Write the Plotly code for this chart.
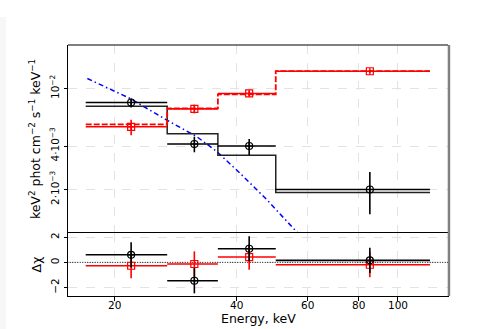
import math
import plotly.graph_objects as go
from plotly.subplots import make_subplots

# ---- data ----
bin_edges = [17, 27, 36, 50, 120]
energy = [22.0, 31.5, 43.0, 85.3]

black_flux = [0.0080, 0.00413, 0.0040, 0.0020]
black_err_hi = [0.00053, 0.00051, 0.00047, 0.00064]
black_err_lo = [0.00061, 0.00051, 0.00053, 0.00065]
black_model = [0.00755, 0.00487, 0.00345, 0.00191]

red_flux = [0.00543, 0.00723, 0.00924, 0.01316]
red_err_hi = [0.00064, 0.0005, 0.0004, 0.0004]
red_err_lo = [0.00068, 0.0005, 0.0004, 0.0004]
red_model = [0.00565, 0.00728, 0.0091, 0.0132]

blue_E = [17.16, 21.87, 26.93, 31.94, 35.79, 40.84, 47.53, 56.36, 57.4]
blue_y = [0.01172, 0.00853, 0.00605, 0.00464, 0.00366, 0.00259, 0.00170, 0.001026, 0.00096]

black_resid = [0.60, -1.46, 1.08, 0.16]
red_resid = [-0.27, -0.13, 0.42, -0.19]
resid_err = [1.0, 1.0, 1.0, 1.0]

x_ticks = [20, 40, 60, 80, 100]
y_ticks = [0.002, 0.004, 0.01]
y_ticktext = ["2·10<sup>−3</sup>", "4·10<sup>−3</sup>", "10<sup>−2</sup>"]
r_ticks = [-2, 0, 2]
r_ticktext = ["−2", "0", "2"]

# ---- derived ----
ex_lo = [e - lo for e, lo in zip(energy, bin_edges[:-1])]
ex_hi = [hi - e for e, hi in zip(energy, bin_edges[1:])]

L, R, T, B = 68, 42, 45, 33
H, W = 329, 490
ph = H - T - B
pw = W - L - R
resid_frac = 63 / ph

fig = make_subplots(rows=2, cols=1, shared_xaxes=True, vertical_spacing=0,
                    row_heights=[1 - resid_frac, resid_frac])

FONT = "DejaVu Sans"

fig.add_trace(go.Scatter(x=blue_E, y=blue_y, mode="lines",
                         line=dict(color="#0000ff", width=1.5, dash="5px,3px,1.5px,3px"),
                         showlegend=False), row=1, col=1)

fig.add_trace(go.Scatter(x=bin_edges, y=black_model + [black_model[-1]], mode="lines",
                         line=dict(color="#222222", width=1.5, shape="hv"),
                         showlegend=False), row=1, col=1)
fig.add_trace(go.Scatter(x=bin_edges, y=red_model + [red_model[-1]], mode="lines",
                         line=dict(color="#ff0000", width=1.8, shape="hv", dash="6px,2px"),
                         showlegend=False), row=1, col=1)

fig.add_trace(go.Scatter(x=energy, y=black_flux, mode="markers",
                         marker=dict(symbol="circle-cross-open", size=7, color="black",
                                     line=dict(width=1.2)),
                         error_x=dict(type="data", array=ex_hi, arrayminus=ex_lo,
                                      color="black", thickness=1.6, width=0),
                         error_y=dict(type="data", array=black_err_hi, arrayminus=black_err_lo,
                                      color="black", thickness=1.6, width=0),
                         showlegend=False), row=1, col=1)
fig.add_trace(go.Scatter(x=energy, y=red_flux, mode="markers",
                         marker=dict(symbol="square-cross-open", size=7, color="#ff0000",
                                     line=dict(width=1.2)),
                         error_x=dict(type="data", array=ex_hi, arrayminus=ex_lo,
                                      color="#ff0000", thickness=1.6, width=0),
                         error_y=dict(type="data", array=red_err_hi, arrayminus=red_err_lo,
                                      color="#ff0000", thickness=1.6, width=0),
                         showlegend=False), row=1, col=1)

fig.add_trace(go.Scatter(x=[10, 200], y=[0, 0], mode="lines",
                         line=dict(color="black", width=1, dash="1px,1.5px"),
                         showlegend=False, hoverinfo="skip"), row=2, col=1)

fig.add_trace(go.Scatter(x=energy, y=red_resid, mode="markers",
                         marker=dict(symbol="square-open", size=7, color="#ff0000",
                                     line=dict(width=1.2)),
                         error_x=dict(type="data", array=ex_hi, arrayminus=ex_lo,
                                      color="#ff0000", thickness=1.6, width=0),
                         error_y=dict(type="data", array=resid_err,
                                      color="#ff0000", thickness=1.6, width=0),
                         showlegend=False), row=2, col=1)
fig.add_trace(go.Scatter(x=energy, y=black_resid, mode="markers",
                         marker=dict(symbol="circle-cross-open", size=7, color="black",
                                     line=dict(width=1.2)),
                         error_x=dict(type="data", array=ex_hi, arrayminus=ex_lo,
                                      color="black", thickness=1.6, width=0),
                         error_y=dict(type="data", array=resid_err,
                                      color="black", thickness=1.6, width=0),
                         showlegend=False), row=2, col=1)

GRID = "#e3e3e3"
xr = [1.1868, 2.1236]
common_x = dict(type="log", range=xr, tickvals=x_ticks,
                showgrid=True, gridcolor=GRID, griddash="dash", gridwidth=1,
                ticks="outside", ticklen=3.5, tickcolor="black", automargin=False,
                linecolor="black", linewidth=1, showticklabels=False, zeroline=False)

fig.update_xaxes(**common_x)
fig.update_xaxes(showline=False, mirror=False, row=1, col=1)
fig.update_xaxes(showline=True, mirror=True, row=2, col=1)

common_y = dict(tickangle=-90, showgrid=True, gridcolor=GRID, griddash="dash",
                ticks="outside", ticklen=3.5, tickcolor="black", automargin=False,
                showline=True, linecolor="black", linewidth=1, mirror=True,
                tickfont=dict(family=FONT, size=10.5, color="black"), zeroline=False)

fig.update_yaxes(type="log", range=[-3.0, -1.699], tickvals=y_ticks, ticktext=y_ticktext,
                 title=dict(text="keV<sup>2</sup> phot cm<sup>−2</sup> s<sup>−1</sup> keV<sup>−1</sup>",
                            font=dict(family=FONT, size=12.5, color="black"), standoff=4),
                 row=1, col=1, **common_y)
fig.update_yaxes(range=[-2.67, 2.33], tickvals=r_ticks, ticktext=r_ticktext,
                 title=dict(text="Δχ", font=dict(family=FONT, size=12.5, color="black"), standoff=4),
                 row=2, col=1, **common_y)

annotations = [
    dict(text=str(v), xref="x2", yref="paper", x=math.log10(v), y=-8.5 / ph,
         xanchor="center", yanchor="middle", showarrow=False,
         font=dict(family=FONT, size=10.5, color="black"))
    for v in x_ticks
]
annotations.append(
    dict(text="Energy, keV", xref="paper", yref="paper", x=0.5, y=-22 / ph,
         xanchor="center", yanchor="middle", showarrow=False,
         font=dict(family=FONT, size=12.5, color="black")))

fig.update_layout(
    width=W, height=H,
    margin=dict(l=L, r=R, t=T, b=B),
    plot_bgcolor="white", paper_bgcolor="white",
    showlegend=False,
    annotations=annotations,
    shapes=[
        dict(type="line", xref="paper", yref="paper", x0=1.0025, x1=1.0025, y0=0, y1=1,
             line=dict(color="#808080", width=2.5)),
        dict(type="line", xref="paper", yref="paper", x0=0, x1=1.0, y0=1, y1=1,
             line=dict(color="#555555", width=1.5)),
        dict(type="rect", xref="paper", yref="paper", x0=-L / pw, x1=(6 - L) / pw,
             y0=-B / ph, y1=(H - T - 5) / ph, fillcolor="#f7f7f7", line=dict(width=0),
             layer="below"),
    ],
)

fig.write_html("out.html")
